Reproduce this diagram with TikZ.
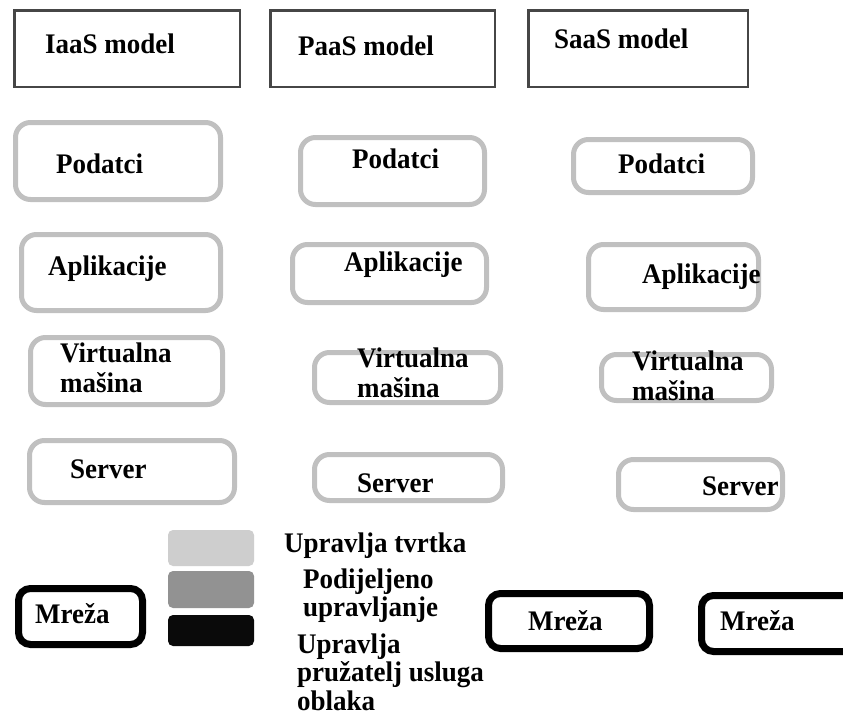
\documentclass[tikz,border=0pt]{standalone}
\usepackage{fontspec}
\setmainfont{Liberation Serif}
\usepackage{graphicx}
\definecolor{boxgray}{RGB}{192,192,192}
\definecolor{hdrline}{RGB}{70,70,70}
\definecolor{leglight}{RGB}{206,206,206}
\definecolor{legmid}{RGB}{146,146,146}
\definecolor{legdark}{RGB}{10,10,10}
\newcommand\lbl[2][27]{\scalebox{1}[1.05]{\fontsize{27}{#1}\selectfont\bfseries\begin{tabular}[t]{@{}l@{}}#2\end{tabular}}}
\tikzset{
  hdr/.style={draw=hdrline, line width=2.5pt, inner sep=0pt},
  gbox/.style={draw=boxgray, line width=5pt, rounded corners=15pt, inner sep=0pt},
  kbox/.style={draw=black, line width=7pt, rounded corners=12pt, inner sep=0pt},
  leg/.style={rounded corners=5pt, inner sep=0pt, minimum width=86pt},
  txt/.style={anchor=base west, inner sep=0pt, text=black}
}
\begin{document}
\begin{tikzpicture}[x=1pt,y=-1pt]
\useasboundingbox (0,0) rectangle (843,718);
\clip (0,0) rectangle (843,718);
\fill[white] (0,0) rectangle (843,718);
% headers
\node[hdr, minimum width=225.5pt, minimum height=76.5pt] (ih) at (127,48.5) {};
\node[hdr, minimum width=224.5pt, minimum height=76.5pt] (ph) at (382.5,48.5) {};
\node[hdr, minimum width=219.5pt, minimum height=76.5pt] (sh) at (638,48.5) {};
\node[txt] (iht) at (45,53) {\lbl{IaaS model}};
\node[txt] (pht) at (298,55) {\lbl{PaaS model}};
\node[txt] (sht) at (554,48) {\lbl{SaaS model}};
% Podatci
\node[gbox, minimum width=205pt, minimum height=77pt] (ip) at (118,161) {};
\node[gbox, minimum width=184pt, minimum height=67pt] (pp) at (392.5,171) {};
\node[gbox, minimum width=179pt, minimum height=53pt] (sp) at (663,166) {};
\node[txt] (ipt) at (56,173) {\lbl{Podatci}};
\node[txt] (ppt) at (352,168) {\lbl{Podatci}};
\node[txt] (spt) at (618,173) {\lbl{Podatci}};
% Aplikacije
\node[gbox, minimum width=199pt, minimum height=76pt] (ia) at (121,272.5) {};
\node[gbox, minimum width=194pt, minimum height=58pt] (pa) at (389.5,273.5) {};
\node[gbox, minimum width=170pt, minimum height=65pt] (sa) at (673.5,277) {};
\node[txt] (iat) at (48,275) {\lbl{Aplikacije}};
\node[txt] (pat) at (344,271) {\lbl{Aplikacije}};
\node[txt] (sat) at (642,283) {\lbl{Aplikacije}};
% Virtualna masina
\node[gbox, minimum width=192pt, minimum height=67pt] (iv) at (126.5,371) {};
\node[gbox, minimum width=186pt, minimum height=50pt] (pv) at (407.5,377.5) {};
\node[gbox, minimum width=170pt, minimum height=46pt] (sv) at (686.5,377.5) {};
\node[txt] (ivt) at (60,362) {\lbl[29.5]{Virtualna\\mašina}};
\node[txt] (pvt) at (357,367) {\lbl[29.5]{Virtualna\\mašina}};
\node[txt] (svt) at (632,370) {\lbl[29.5]{Virtualna\\mašina}};
% Server
\node[gbox, minimum width=205pt, minimum height=62pt] (is) at (132,471.5) {};
\node[gbox, minimum width=188pt, minimum height=46pt] (ps) at (408.5,477.5) {};
\node[gbox, minimum width=164pt, minimum height=50pt] (ss) at (700.5,484.5) {};
\node[txt] (ist) at (70,478) {\lbl{Server}};
\node[txt] (pst) at (357,492) {\lbl{Server}};
\node[txt] (sst) at (702,495) {\lbl{Server}};
% Mreza
\node[kbox, minimum width=124pt, minimum height=56pt] (im) at (80.5,616.5) {};
\node[kbox, minimum width=161pt, minimum height=55pt] (pm) at (569,621) {};
\node[kbox, minimum width=165pt, minimum height=56pt] (sm) at (784,623.5) {};
\node[txt] (imt) at (35,623) {\lbl{Mreža}};
\node[txt] (pmt) at (528,630) {\lbl{Mreža}};
\node[txt] (smt) at (720,630) {\lbl{Mreža}};
% legend
\node[leg, fill=leglight, minimum height=36pt] (l1) at (211,548) {};
\node[leg, fill=legmid, minimum height=37pt] (l2) at (211,589.5) {};
\node[leg, fill=legdark, minimum height=31pt] (l3) at (211,630.5) {};
\node[txt] (l1t) at (284,552) {\lbl{Upravlja tvrtka}};
\node[txt] (l2t) at (303,588) {\lbl[27.6]{Podijeljeno\\upravljanje}};
\node[txt] (l3t) at (297,653) {\lbl[27.3]{Upravlja\\pružatelj usluga\\oblaka}};
\end{tikzpicture}
\end{document}
